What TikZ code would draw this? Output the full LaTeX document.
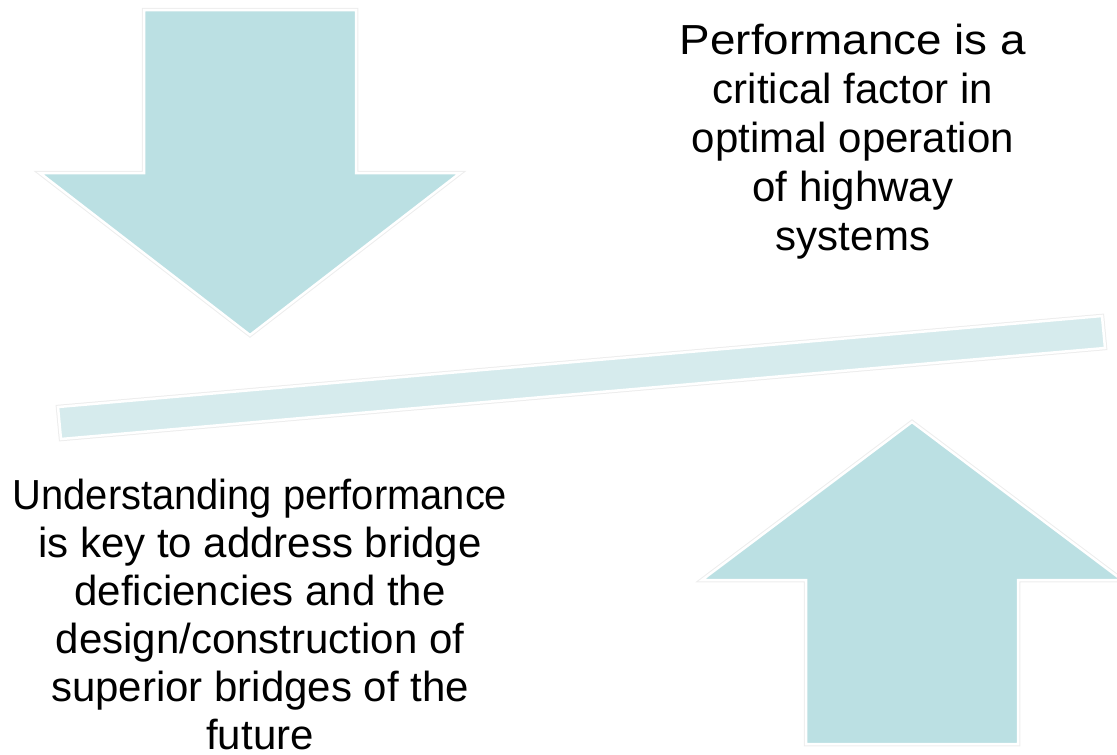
\documentclass[tikz,border=0pt]{standalone}
\usepackage{fontspec}
\setmainfont{Liberation Sans}
\newfontfamily\widesans[FakeStretch=1.09]{Liberation Sans}
\newfontfamily\narrowsans[FakeStretch=0.95]{Liberation Sans}
\definecolor{arrowteal}{RGB}{187,224,227}
\definecolor{barteal}{RGB}{214,235,237}
\tikzset{
  bigarrow/.style={fill=arrowteal, draw=white, line width=2.5pt, line join=miter,
    preaction={draw=black!7, line width=4.5pt}},
  beam/.style={fill=barteal, draw=white, line width=2.5pt,
    preaction={draw=black!7, line width=4.5pt}},
  bigtext/.style={align=center, inner sep=0pt, font=\fontsize{42}{49}\selectfont}
}
\begin{document}
\begin{tikzpicture}[x=1pt,y=-1pt]
    \useasboundingbox (0,0) rectangle (1117,755);
    \def\sw{106}  % half width of shaft
    \def\hw{210}  % half width of head
    % ---- arrow pushing down ----
    \path[bigarrow] ({250-\sw},10) -- ({250+\sw},10) -- ({250+\sw},173)
        -- ({250+\hw},173) -- (250,335) -- ({250-\hw},173) -- ({250-\sw},173) -- cycle;
    % ---- arrow pushing up ----
    \path[bigarrow] ({912-\sw},744) -- ({912+\sw},744) -- ({912+\sw},580)
        -- ({912+\hw},580) -- (912,422) -- ({912-\hw},580) -- ({912-\sw},580) -- cycle;
    % ---- tilted beam ----
    \path[beam] (58,407) -- (1102,316) -- (1105,348) -- (61,439) -- cycle;
    % ---- texts ----
    \node[bigtext] (perf) at (853,142) {\widesans Performance is a\\critical factor in\\optimal operation\\of highway\\systems};
    \node[bigtext, font=\fontsize{42}{48}\selectfont] (under) at (260,614) {\narrowsans Understanding performance\\is key to address bridge\\deficiencies and the\\design/construction of\\superior bridges of the\\future};
\end{tikzpicture}
\end{document}
